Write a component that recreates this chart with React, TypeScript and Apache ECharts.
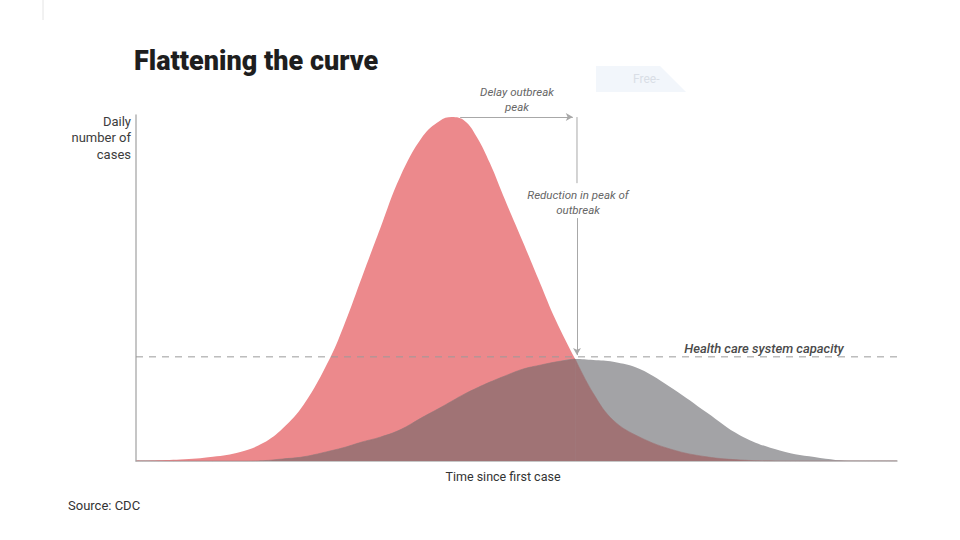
import React, { useEffect, useRef } from "react";
import * as echarts from "echarts";

// Time since first case (arbitrary units, 0..100)
const timeSteps = [0, 5.8, 10.1, 13.7, 16.7, 19.3, 22.0, 25.5, 27.5, 29.7, 32.1, 34.7, 37.7, 39.9, 41.5, 43.2, 44.8, 46.5, 48.5, 50.9, 53.1, 55.1, 57.7, 60.1, 62.7, 66.2, 70.6, 75.0, 79.4, 84.6, 89.9, 95.1, 100];
// Daily number of cases (relative, 0..100)
const casesWithout = [0, 0.4, 1.2, 2.6, 5.2, 9.5, 16.2, 29.8, 40.2, 53.2, 67.3, 82.1, 93.9, 98.3, 99.4, 98.3, 93.6, 86.1, 75.4, 63.0, 51.4, 41.0, 29.5, 19.5, 11.8, 6.9, 3.2, 1.2, 0.3, 0, 0, 0, 0];
const casesWith = [0, 0, 0, 0, 0.1, 0.6, 1.2, 2.9, 4.0, 5.5, 6.9, 9.0, 12.7, 15.3, 17.3, 19.4, 21.1, 22.8, 24.6, 26.6, 27.7, 28.6, 29.5, 29.2, 28.7, 26.6, 20.8, 14.0, 7.4, 3.0, 0.9, 0, 0];
// index where the two curves cross
const crossIndex = 22;
const capacity = 30.1;
const peakTime = 42.6;
const delayedPeakTime = 57.4;
const arrowTime = 57.95;
const peakValue = 99.4;
const labelGapTop = 80.3;
const labelGapBottom = 70.2;

const RED = "#EC898C";
const GREY = "#A3A3A6";
const OVERLAP = "#A07375";

export default function App() {
  const ref = useRef<HTMLDivElement>(null);
  useEffect(() => {
    if (!ref.current) return;
    const chart = echarts.init(ref.current, null, { renderer: "svg" });
    const without = timeSteps.map((t, i) => [t, casesWithout[i]]);
    const withM = timeSteps.map((t, i) => [t, casesWith[i]]);
    const overlapLeft = withM.slice(0, crossIndex + 1);
    const overlapRight = without.slice(crossIndex);
    const font = "Roboto, 'Noto Sans', sans-serif";
    const SMOOTH = 0.4;
    const areaBase = {
      type: "line",
      smooth: SMOOTH,
      showSymbol: false,
      symbol: "none",
      lineStyle: { width: 0 },
      silent: true,
    };
    chart.setOption({
      animation: false,
      backgroundColor: "#ffffff",
      grid: { left: 136, right: 63, top: 115, bottom: 79 },
      xAxis: {
        type: "value",
        min: 0,
        max: 100,
        axisLine: { show: true, lineStyle: { color: "#b3b3b3", width: 1.5 } },
        axisTick: { show: false },
        axisLabel: { show: false },
        splitLine: { show: false },
      },
      yAxis: {
        type: "value",
        min: 0,
        max: 100,
        axisLine: { show: true, lineStyle: { color: "#b3b3b3", width: 1.5 } },
        axisTick: { show: false },
        axisLabel: { show: false },
        splitLine: { show: false },
      },
      series: [
        {
          ...areaBase,
          name: "Cases without protective measures",
          data: without,
          z: 2,
          areaStyle: { color: RED, opacity: 1 },
          markLine: {
            silent: true,
            symbol: ["none", "arrow"],
            symbolSize: [6, 7],
            label: { show: false },
            lineStyle: { color: "#a8a8a8", width: 1, type: "solid" },
            data: [
              [{ coord: [peakTime, peakValue] }, { coord: [delayedPeakTime, peakValue] }],
              [{ coord: [arrowTime, labelGapBottom] }, { coord: [arrowTime, capacity + 0.5] }],
            ],
          },
        },
        {
          ...areaBase,
          name: "Cases with protective measures",
          data: withM,
          z: 3,
          areaStyle: { color: GREY, opacity: 1 },
        },
        {
          ...areaBase,
          name: "Overlap (left)",
          data: overlapLeft,
          z: 4,
          lineStyle: { width: 0.6, color: OVERLAP },
          areaStyle: { color: OVERLAP, opacity: 1 },
        },
        {
          ...areaBase,
          name: "Overlap (right)",
          data: overlapRight,
          z: 4,
          lineStyle: { width: 0.6, color: OVERLAP },
          areaStyle: { color: OVERLAP, opacity: 1 },
        },
        {
          type: "line",
          name: "Health care system capacity",
          data: [[0, capacity], [100, capacity]],
          showSymbol: false,
          symbol: "none",
          z: 5,
          silent: true,
          lineStyle: { color: "#9a9a9a", width: 1, type: [7, 6] },
        },
        {
          type: "line",
          name: "arrow-top",
          data: [[arrowTime, peakValue], [arrowTime, labelGapTop]],
          showSymbol: false,
          symbol: "none",
          z: 5,
          silent: true,
          lineStyle: { color: "#a8a8a8", width: 1 },
        },
      ],
      graphic: [
        { type: "line", shape: { x1: 43, y1: 0, x2: 43, y2: 20 }, style: { stroke: "#e4e4e4", lineWidth: 1 } },
        {
          type: "polygon",
          shape: { points: [[596, 66], [660, 66], [686, 92], [596, 92]] },
          style: { fill: "#f2f6fb" },
        },
        { type: "text", x: 633, y: 79, style: { text: "Free-", fill: "#d9dee6", font: `12px ${font}`, textVerticalAlign: "middle" } },
        {
          type: "text",
          x: 134,
          y: 61,
          style: { text: "Flattening the curve", fill: "#1e1e1e", font: `900 27px ${font}`, textVerticalAlign: "middle" },
        },
        {
          type: "text",
          x: 131,
          y: 113,
          style: { text: "Daily\nnumber of\ncases", fill: "#3c3c3c", font: `13px ${font}`, textAlign: "right", lineHeight: 16.5 },
        },
        {
          type: "text",
          x: 517,
          y: 84,
          style: { text: "Delay outbreak\npeak", fill: "#666", font: `italic 11.5px ${font}`, textAlign: "center", lineHeight: 15 },
        },
        {
          type: "text",
          x: 578,
          y: 187,
          style: { text: "Reduction in peak of\noutbreak", fill: "#666", font: `italic 11.5px ${font}`, textAlign: "center", lineHeight: 15 },
        },
        {
          type: "text",
          x: 764,
          y: 348,
          style: { text: "Health care system capacity", fill: "#4a4a4a", font: `italic 500 13px ${font}`, textAlign: "center", textVerticalAlign: "middle" },
        },
        {
          type: "text",
          x: 453,
          y: 264,
          style: { text: "Cases without\nprotective measures", fill: "#fbe8e8", font: `500 12px ${font}`, textAlign: "center", lineHeight: 17 },
        },
        {
          type: "text",
          x: 586,
          y: 400,
          style: { text: "Cases with protective\nmeasures", fill: "#f6eaea", font: `500 12.5px ${font}`, textAlign: "center", lineHeight: 17 },
        },
        {
          type: "text",
          x: 503,
          y: 476,
          style: { text: "Time since first case", fill: "#333", font: `12.5px ${font}`, textAlign: "center", textVerticalAlign: "middle" },
        },
        {
          type: "text",
          x: 68,
          y: 505,
          style: { text: "Source: CDC", fill: "#333", font: `13px ${font}`, textVerticalAlign: "middle" },
        },
      ],
    });
    return () => chart.dispose();
  }, []);
  return <div ref={ref} style={{ position: "fixed", left: 0, top: 0, width: 960, height: 540 }} />;
}
